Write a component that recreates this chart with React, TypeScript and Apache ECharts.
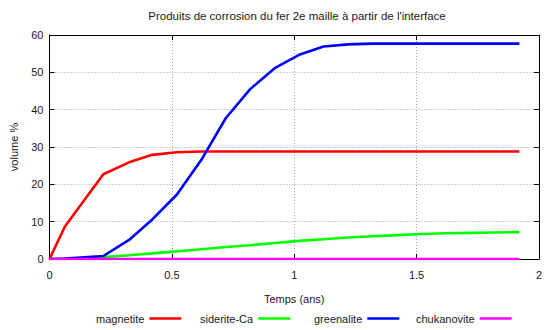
import React, { useEffect, useRef } from "react";
import * as echarts from "echarts";

const temps = [0, 0.063, 0.22, 0.325, 0.42, 0.52, 0.62, 0.72, 0.82, 0.92, 1.02, 1.12, 1.22, 1.32, 1.42, 1.52, 1.62, 1.72, 1.82, 1.92];
const magnetite = [0, 8.7, 22.7, 25.9, 27.9, 28.6, 28.8, 28.8, 28.8, 28.8, 28.8, 28.8, 28.8, 28.8, 28.8, 28.8, 28.8, 28.8, 28.8, 28.8];
const sideriteCa = [0, 0, 0.5, 1.0, 1.5, 2.05, 2.6, 3.2, 3.7, 4.3, 4.85, 5.3, 5.75, 6.1, 6.4, 6.7, 6.9, 7.0, 7.1, 7.2];
const greenalite = [0, 0.1, 0.8, 5.1, 10.6, 17.2, 26.5, 37.7, 45.5, 51.1, 54.7, 56.9, 57.5, 57.7, 57.7, 57.7, 57.7, 57.7, 57.7, 57.7];
const chukanovite = [0, 0, 0, 0, 0, 0, 0, 0, 0, 0, 0, 0, 0, 0, 0, 0, 0, 0, 0, 0];

const seriesNames = ["magnetite", "siderite-Ca", "greenalite", "chukanovite"];
const seriesValues = [magnetite, sideriteCa, greenalite, chukanovite];
const seriesColors = ["#ff0000", "#00ff00", "#0000ff", "#ff00ff"];
const legendLefts = [96, 200, 314, 416];

const titleText = "Produits de corrosion du fer 2e maille à partir de l'interface";
const xName = "Temps (ans)";
const yName = "volume %";

const FONT = "Liberation Sans";
const TEXT = "#1a1a1a";

export default function App() {
  const ref = useRef<HTMLDivElement>(null);
  useEffect(() => {
    if (!ref.current) return;
    const chart = echarts.init(ref.current, undefined, { renderer: "svg" });
    const gridLine = { show: true, lineStyle: { color: "#a0a0a0", type: [1, 2] as any, width: 1 } };
    const axisLine = { show: true, onZero: false, lineStyle: { color: "#000", width: 1 } };
    const tick = { show: true, inside: true, length: 5, lineStyle: { color: "#000" } };
    chart.setOption({
      animation: false,
      textStyle: { fontFamily: FONT },
      graphic: [
        {
          type: "text",
          x: 297,
          y: 16,
          style: {
            text: titleText,
            fontFamily: FONT,
            fontSize: 11.5,
            fill: TEXT,
            align: "center",
            verticalAlign: "middle",
          },
        },
      ],
      grid: { left: 49.5, right: 1.5, top: 35, bottom: 71 },
      legend: seriesNames.map((name, i) => ({
        left: legendLefts[i],
        top: 313,
        align: "right",
        icon: "rect",
        itemWidth: 32,
        itemHeight: 2.5,
        padding: 0,
        textStyle: { fontFamily: FONT, fontSize: 11, color: TEXT, padding: [0, 0, 0, 0] },
        data: [name],
      })),
      xAxis: [
        {
          type: "value",
          min: 0,
          max: 2,
          interval: 0.5,
          position: "bottom",
          name: xName,
          nameLocation: "middle",
          nameGap: 34,
          nameTextStyle: { fontFamily: FONT, fontSize: 11, color: TEXT },
          axisLine,
          axisTick: tick,
          axisLabel: { fontFamily: FONT, fontSize: 11, color: TEXT, margin: 10 },
          splitLine: gridLine,
        },
        {
          type: "value",
          min: 0,
          max: 2,
          interval: 0.5,
          position: "top",
          axisLine,
          axisTick: tick,
          axisLabel: { show: false },
          splitLine: { show: false },
        },
      ],
      yAxis: [
        {
          type: "value",
          min: 0,
          max: 60,
          interval: 10,
          position: "left",
          name: yName,
          nameLocation: "middle",
          nameGap: 30,
          nameTextStyle: { fontFamily: FONT, fontSize: 11, color: TEXT },
          axisLine,
          axisTick: tick,
          axisLabel: { fontFamily: FONT, fontSize: 11, color: TEXT, margin: 6 },
          splitLine: gridLine,
        },
        {
          type: "value",
          min: 0,
          max: 60,
          interval: 10,
          position: "right",
          axisLine,
          axisTick: tick,
          axisLabel: { show: false },
          splitLine: { show: false },
        },
      ],
      series: seriesNames.map((name, i) => ({
        name,
        type: "line",
        xAxisIndex: 0,
        yAxisIndex: 0,
        showSymbol: false,
        symbol: "none",
        color: seriesColors[i],
        lineStyle: { color: seriesColors[i], width: 2.6 },
        data: temps.map((t, j) => [t, seriesValues[i][j]]),
      })),
    });
    return () => chart.dispose();
  }, []);
  return <div ref={ref} style={{ width: 545, height: 330, position: "absolute", left: 0, top: 0 }} />;
}
